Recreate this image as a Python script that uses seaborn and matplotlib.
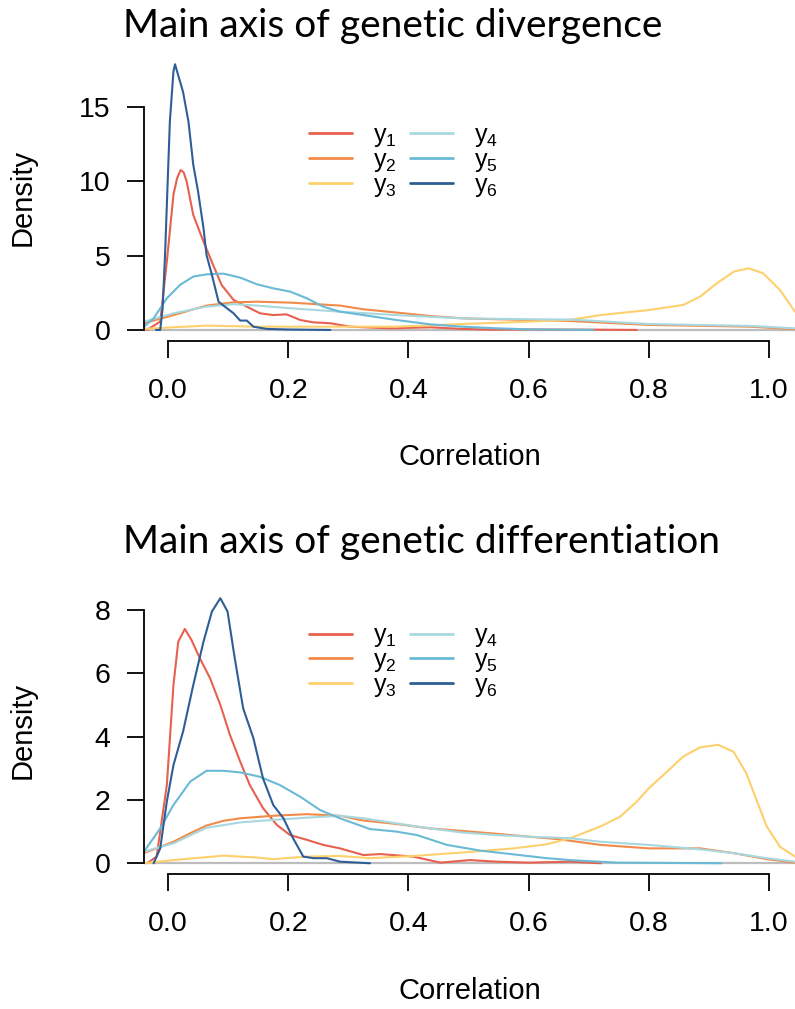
import numpy as np
import pandas as pd
import matplotlib
matplotlib.use("Agg")
import matplotlib.pyplot as plt
import seaborn as sns

# ---- density curves, main axis of genetic divergence ----
div_y1_x = [-0.035, -0.013, -0.002, 0.009, 0.015, 0.021, 0.026, 0.031, 0.042, 0.059, 0.075, 0.089,
            0.109, 0.131, 0.153, 0.175, 0.197, 0.22, 0.242, 0.27, 0.303, 0.369, 0.436, 0.49,
            0.536, 0.6, 0.7, 0.78]
div_y1_d = [0.0, 0.56, 4.6, 9.1, 10.2, 10.76, 10.6, 9.98, 7.73, 5.94, 4.37, 3.03,
            2.02, 1.57, 1.12, 1.0, 1.05, 0.67, 0.51, 0.45, 0.22, 0.11, 0.18, 0.07,
            0.02, 0.03, 0.02, 0.0]
div_y2_x = [-0.04, 0.009, 0.064, 0.109, 0.148, 0.203, 0.286, 0.325, 0.38, 0.436, 0.49, 0.547,
            0.6, 0.669, 0.8, 0.968, 1.043]
div_y2_d = [0.45, 1.0, 1.64, 1.86, 1.9, 1.84, 1.64, 1.39, 1.17, 0.94, 0.78, 0.72,
            0.67, 0.6, 0.34, 0.22, 0.05]
div_y3_x = [-0.04, 0.009, 0.064, 0.148, 0.286, 0.38, 0.49, 0.6, 0.669, 0.719, 0.8, 0.857,
            0.885, 0.913, 0.941, 0.966, 0.99, 1.018, 1.043]
div_y3_d = [0.07, 0.18, 0.29, 0.22, 0.22, 0.22, 0.4, 0.56, 0.68, 1.0, 1.34, 1.68,
            2.24, 3.14, 3.92, 4.15, 3.81, 2.69, 1.23]
div_y4_x = [-0.04, 0.009, 0.064, 0.109, 0.148, 0.203, 0.286, 0.38, 0.49, 0.6, 0.669, 0.8,
            0.968, 1.043]
div_y4_d = [0.56, 1.12, 1.57, 1.73, 1.64, 1.46, 1.23, 1.0, 0.78, 0.72, 0.7, 0.4,
            0.27, 0.11]
div_y5_x = [-0.04, -0.024, -0.002, 0.02, 0.042, 0.064, 0.092, 0.12, 0.148, 0.175, 0.203, 0.231,
            0.258, 0.286, 0.325, 0.38, 0.436, 0.49, 0.547, 0.6, 0.707]
div_y5_d = [0.22, 0.78, 2.13, 3.03, 3.59, 3.74, 3.79, 3.52, 3.07, 2.8, 2.58, 2.13,
            1.57, 1.23, 1.0, 0.67, 0.38, 0.22, 0.11, 0.04, 0.0]
div_y6_x = [-0.02, -0.013, -0.009, -0.005, 0.003, 0.009, 0.0116, 0.02, 0.025, 0.034, 0.042, 0.05,
            0.059, 0.064, 0.073, 0.084, 0.098, 0.109, 0.12, 0.131, 0.142, 0.164, 0.2, 0.27]
div_y6_d = [0.0, 0.0, 1.46, 5.04, 14.0, 17.4, 17.87, 16.7, 16.0, 14.0, 11.1, 9.3,
            6.84, 5.04, 3.7, 1.9, 1.46, 1.12, 0.63, 0.63, 0.22, 0.07, 0.03, 0.0]

# ---- density curves, main axis of genetic differentiation ----
dif_y1_x = [-0.035, -0.019, -0.002, 0.009, 0.017, 0.028, 0.039, 0.053, 0.07, 0.087, 0.103, 0.12,
            0.136, 0.158, 0.181, 0.203, 0.231, 0.258, 0.286, 0.325, 0.353, 0.408, 0.453, 0.502,
            0.547, 0.6, 0.669, 0.72]
dif_y1_d = [0.0, 0.21, 2.47, 5.63, 7.0, 7.4, 7.05, 6.47, 5.84, 5.0, 4.05, 3.21,
            2.47, 1.74, 1.21, 0.89, 0.74, 0.58, 0.47, 0.26, 0.29, 0.21, 0.02, 0.1,
            0.05, 0.02, 0.05, 0.0]
dif_y2_x = [-0.04, 0.009, 0.037, 0.064, 0.092, 0.12, 0.175, 0.231, 0.286, 0.325, 0.38, 0.436,
            0.49, 0.547, 0.6, 0.65, 0.719, 0.8, 0.885, 0.941, 0.996, 1.043]
dif_y2_d = [0.32, 0.68, 0.95, 1.19, 1.34, 1.42, 1.5, 1.55, 1.5, 1.35, 1.24, 1.1,
            1.02, 0.93, 0.84, 0.76, 0.58, 0.47, 0.47, 0.32, 0.13, 0.02]
dif_y3_x = [-0.04, 0.009, 0.092, 0.148, 0.175, 0.231, 0.286, 0.336, 0.408, 0.49, 0.575, 0.63,
            0.669, 0.719, 0.752, 0.78, 0.8, 0.83, 0.857, 0.885, 0.915, 0.941, 0.962, 0.979,
            0.996, 1.018, 1.043]
dif_y3_d = [0.0, 0.1, 0.24, 0.18, 0.13, 0.21, 0.23, 0.16, 0.23, 0.34, 0.47, 0.6,
            0.79, 1.16, 1.47, 1.95, 2.37, 2.89, 3.37, 3.66, 3.74, 3.52, 2.84, 2.0,
            1.16, 0.52, 0.21]
dif_y4_x = [-0.04, 0.009, 0.064, 0.12, 0.175, 0.231, 0.286, 0.325, 0.38, 0.436, 0.49, 0.547,
            0.6, 0.669, 0.719, 0.8, 0.885, 0.941, 0.996, 1.043]
dif_y4_d = [0.37, 0.63, 1.12, 1.29, 1.37, 1.44, 1.5, 1.42, 1.26, 1.1, 0.97, 0.89,
            0.84, 0.79, 0.68, 0.58, 0.44, 0.32, 0.16, 0.05]
dif_y5_x = [-0.04, -0.013, 0.009, 0.037, 0.064, 0.092, 0.12, 0.153, 0.186, 0.22, 0.253, 0.286,
            0.336, 0.38, 0.414, 0.464, 0.519, 0.575, 0.63, 0.669, 0.747, 0.92]
dif_y5_d = [0.37, 1.1, 1.84, 2.58, 2.92, 2.92, 2.87, 2.73, 2.47, 2.1, 1.68, 1.42,
            1.08, 1.0, 0.89, 0.58, 0.4, 0.28, 0.16, 0.1, 0.02, 0.0]
dif_y6_x = [-0.024, -0.013, -0.002, 0.009, 0.025, 0.042, 0.059, 0.073, 0.087, 0.099, 0.111, 0.125,
            0.142, 0.158, 0.175, 0.192, 0.208, 0.225, 0.242, 0.264, 0.286, 0.336]
dif_y6_d = [0.0, 0.47, 1.95, 3.1, 4.16, 5.63, 7.0, 7.95, 8.37, 7.95, 6.47, 4.89,
            3.95, 2.68, 1.84, 1.42, 0.79, 0.21, 0.16, 0.16, 0.05, 0.0]

series_labels = [r"$\mathregular{y_1}$", r"$\mathregular{y_2}$", r"$\mathregular{y_3}$",
                 r"$\mathregular{y_4}$", r"$\mathregular{y_5}$", r"$\mathregular{y_6}$"]
series_colors = ["#E8604F", "#F28A4A", "#FDD06C", "#A8D8DF", "#6BBAD5", "#2F5E96"]

x_ticks = [0.0, 0.2, 0.4, 0.6, 0.8, 1.0]
x_tick_labels = ["0.0", "0.2", "0.4", "0.6", "0.8", "1.0"]
div_y_ticks = [0, 5, 10, 15]
dif_y_ticks = [0, 2, 4, 6, 8]

titles = ["Main axis of genetic divergence", "Main axis of genetic differentiation"]


def build_frame(xs, ds):
    parts = []
    for label, x, d in zip(series_labels, xs, ds):
        parts.append(pd.DataFrame({"Correlation": x, "Density": d, "series": label}))
    return pd.concat(parts, ignore_index=True)


div_df = build_frame([div_y1_x, div_y2_x, div_y3_x, div_y4_x, div_y5_x, div_y6_x],
                     [div_y1_d, div_y2_d, div_y3_d, div_y4_d, div_y5_d, div_y6_d])
dif_df = build_frame([dif_y1_x, dif_y2_x, dif_y3_x, dif_y4_x, dif_y5_x, dif_y6_x],
                     [dif_y1_d, dif_y2_d, dif_y3_d, dif_y4_d, dif_y5_d, dif_y6_d])

sns.set_theme(style="white")
plt.rcParams["font.family"] = ["Liberation Sans", "DejaVu Sans"]
plt.rcParams["mathtext.default"] = "regular"
for key in ["text.color", "axes.labelcolor", "xtick.color", "ytick.color"]:
    plt.rcParams[key] = "black"

W, H = 795, 1009
fig = plt.figure(figsize=(W / 100, H / 100), dpi=100)


def px_axes(left, top, right, bottom):
    return fig.add_axes([left / W, 1 - bottom / H, (right - left) / W, (bottom - top) / H])


panels = [
    dict(df=div_df, top=53.4, bottom=340.6, ylim=(-0.716, 18.6), yticks=div_y_ticks,
         title_base=37.0, legend_top=0.757),
    dict(df=dif_df, top=586.5, bottom=873.9, ylim=(-0.336, 8.74), yticks=dif_y_ticks,
         title_base=553.0, legend_top=0.872),
]

palette = dict(zip(series_labels, series_colors))

for p, title in zip(panels, titles):
    ax = px_axes(144, p["top"], 795, p["bottom"])
    ax.axhline(0, color="#BDBDBD", lw=1.6, zorder=1)
    sns.lineplot(data=p["df"], x="Correlation", y="Density", hue="series",
                 palette=palette, sort=False, estimator=None, lw=1.5, ax=ax, zorder=2)
    ax.set_xlim(-0.04, 1.043)
    ax.set_ylim(*p["ylim"])
    ax.set_xticks(x_ticks)
    ax.set_xticklabels(x_tick_labels)
    ax.set_yticks(p["yticks"])
    for side in ["top", "right"]:
        ax.spines[side].set_visible(False)
    for side in ["left", "bottom"]:
        ax.spines[side].set_color("black")
        ax.spines[side].set_linewidth(1.3)
    ax.spines["left"].set_bounds(p["yticks"][0], p["yticks"][-1])
    ax.spines["bottom"].set_bounds(0.0, 1.0)
    ax.tick_params(axis="both", direction="out", length=12, width=1.3, color="black",
                   labelsize=20.5, labelcolor="black", left=True, bottom=True)
    ax.tick_params(axis="x", pad=15)
    ax.tick_params(axis="y", pad=12)
    ax.set_xlabel("Correlation", fontsize=21)
    ax.set_ylabel("Density", fontsize=21)
    ax.xaxis.set_label_coords(0.5, -0.358)
    ax.yaxis.set_label_coords(-0.165, 0.5)
    ax.grid(False)
    leg = ax.legend(ncol=2, loc="upper left", bbox_to_anchor=(0.2535, p["legend_top"]),
                    frameon=False, fontsize=18, handlelength=1.7, handletextpad=0.85,
                    columnspacing=0.55, labelspacing=-0.05, borderpad=0, borderaxespad=0)
    for line in leg.get_lines():
        line.set_linewidth(2.0)
    fig.text(123 / W, 1 - p["title_base"] / H, title, fontsize=28, family="Lato",
             ha="left", va="baseline", color="black")

fig.savefig("out.png", dpi=100, facecolor="white")
